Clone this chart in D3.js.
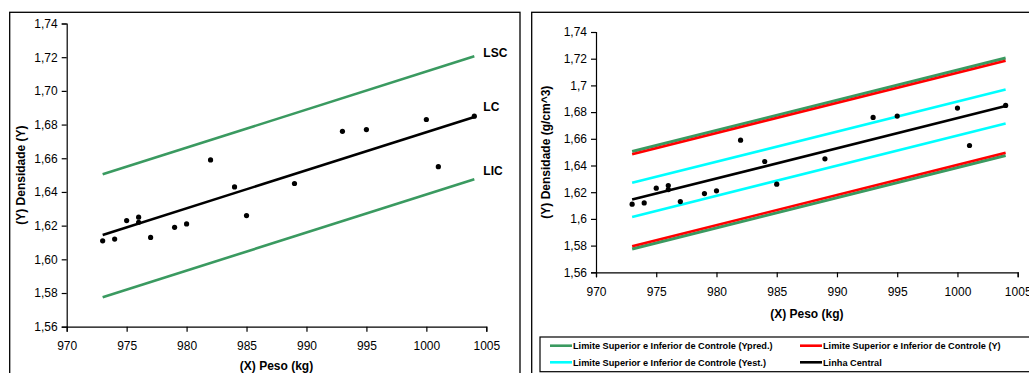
<!DOCTYPE html>
<html>
<head>
<meta charset="utf-8">
<script src="https://cdn.jsdelivr.net/npm/d3@7"></script>
<style>
  body { margin: 0; background: #fff; }
  svg text { font-family: "Liberation Sans", Arial, sans-serif; fill: #000; }
  .tick-label { font-size: 12px; }
  .axis-title { font-size: 12px; font-weight: bold; }
  .legend-label { font-size: 9.2px; font-weight: bold; }
</style>
</head>
<body>
<div id="chart"></div>
<script>
// observations
const pesoX = [973, 974, 975, 976, 976, 977, 979, 980, 982, 984, 985, 989, 993, 995, 1000, 1001, 1004];
const densY = [1.611, 1.612, 1.623, 1.625, 1.622, 1.613, 1.619, 1.621, 1.659, 1.643, 1.626, 1.645, 1.676, 1.677, 1.683, 1.655, 1.685];

// control lines, value at x = 973 and x = 1004
const lineX = [973, 1004];
const central = [1.6145, 1.6845];
const upperPred = [1.6505, 1.7205];
const lowerPred = [1.5775, 1.6475];
const upperY = [1.6485, 1.7185];
const lowerY = [1.5795, 1.6495];
const upperEst = [1.6270, 1.6970];
const lowerEst = [1.6015, 1.6715];

const xTicks = [970, 975, 980, 985, 990, 995, 1000, 1005];
const yTicks = [1.56, 1.58, 1.60, 1.62, 1.64, 1.66, 1.68, 1.70, 1.72, 1.74];
const leftLabels = ["LSC", "LC", "LIC"];
const legendLabels = [
  "Limite Superior e Inferior de Controle (Ypred.)",
  "Limite Superior e Inferior de Controle (Y)",
  "Limite Superior e Inferior de Controle (Yest.)",
  "Linha Central"
];

const GREEN = "#3a9a60", RED = "#ff0000", CYAN = "#00ffff", BLACK = "#000";

const svg = d3.select("#chart").append("svg")
  .attr("width", 1029).attr("height", 373);

const pts = pesoX.map((x, i) => ({ x, y: densY[i] }));

function panel(opts) {
  const x = d3.scaleLinear().domain([970, 1005]).range(opts.xr);
  const y = d3.scaleLinear().domain([1.56, 1.74]).range(opts.yr);
  const g = svg.append("g");

  g.append("rect")
    .attr("x", opts.box[0]).attr("y", opts.box[1])
    .attr("width", opts.box[2]).attr("height", opts.box[3])
    .attr("fill", "none").attr("stroke", "#000").attr("stroke-width", 1.3);

  const xAxis = g.append("g").attr("transform", `translate(0,${opts.yr[0]})`)
    .call(d3.axisBottom(x).tickValues(xTicks).tickSize(5).tickPadding(10).tickFormat(d3.format("d")));
  const yAxis = g.append("g").attr("transform", `translate(${opts.xr[0]},0)`)
    .call(d3.axisLeft(y).tickValues(yTicks).tickSize(5).tickPadding(4)
      .tickFormat(v => opts.yfmt(v).replace(".", ",")));
  [xAxis, yAxis].forEach(a => {
    a.select(".domain").attr("stroke", "#000").attr("stroke-width", 1.2);
    a.selectAll(".tick line").attr("stroke", "#000").attr("stroke-width", 1.2);
    a.selectAll(".tick text").attr("class", "tick-label").attr("font-size", null).attr("font-family", null);
  });

  g.append("text").attr("class", "axis-title")
    .attr("x", (opts.xr[0] + opts.xr[1]) / 2).attr("y", opts.xTitleY)
    .attr("text-anchor", "middle").text("(X) Peso (kg)");
  g.append("text").attr("class", "axis-title")
    .attr("transform", `translate(${opts.yTitleX},${(opts.yr[0] + opts.yr[1]) / 2}) rotate(-90)`)
    .attr("text-anchor", "middle").text(opts.yTitle);

  const line = d3.line().x(d => x(d[0])).y(d => y(d[1]));
  opts.lines.forEach(l => {
    g.append("path")
      .attr("d", line(lineX.map((v, i) => [v, l.vals[i]])))
      .attr("fill", "none").attr("stroke", l.color).attr("stroke-width", l.w || 2.6);
  });

  g.selectAll("circle.pt").data(pts).join("circle").attr("class", "pt")
    .attr("cx", d => x(d.x)).attr("cy", d => y(d.y))
    .attr("r", 2.6).attr("fill", "#000");

  return { x, y, g };
}

// left panel
const left = panel({
  xr: [66.7, 486.3], yr: [326.7, 23.5], box: [9.7, 12.3, 510.3, 380],
  yfmt: d3.format(".2f"), yTitle: "(Y) Densidade (Y)", yTitleX: 25, xTitleY: 370,
  lines: [
    { vals: upperPred, color: GREEN },
    { vals: lowerPred, color: GREEN },
    { vals: central, color: BLACK }
  ]
});
const labelVals = [upperPred[1], central[1], lowerPred[1]];
const labelDy = [1, -6, -4];
left.g.selectAll("text.lim").data(leftLabels).join("text").attr("class", "axis-title lim")
  .attr("x", left.x(1004) + 9)
  .attr("y", (d, i) => left.y(labelVals[i]) + labelDy[i])
  .text(d => d);

// right panel
const right = panel({
  xr: [596, 1017.7], yr: [272.3, 32], box: [531.7, 12.3, 520, 380],
  yfmt: d3.format(".2~f"), yTitle: "(Y) Densidade (g/cm^3)", yTitleX: 550, xTitleY: 318,
  lines: [
    { vals: upperPred, color: GREEN, w: 3 },
    { vals: lowerPred, color: GREEN, w: 3 },
    { vals: upperY, color: RED, w: 2.6 },
    { vals: lowerY, color: RED, w: 2.6 },
    { vals: upperEst, color: CYAN, w: 2.6 },
    { vals: lowerEst, color: CYAN, w: 2.6 },
    { vals: central, color: BLACK, w: 2.6 }
  ]
});

// legend
const legColors = [GREEN, RED, CYAN, BLACK];
const lg = svg.append("g");
lg.append("rect").attr("x", 540).attr("y", 337).attr("width", 520).attr("height", 34.7)
  .attr("fill", "#fff").attr("stroke", "#000").attr("stroke-width", 1.2);
legendLabels.forEach((t, i) => {
  const cx = i % 2 === 0 ? 550 : 800;
  const cy = i < 2 ? 345.7 : 362.3;
  lg.append("line").attr("x1", cx).attr("x2", cx + 22).attr("y1", cy).attr("y2", cy)
    .attr("stroke", legColors[i]).attr("stroke-width", 2.6);
  lg.append("text").attr("class", "legend-label")
    .attr("x", cx + 23).attr("y", cy + 3.2).text(t);
});
</script>
</body>
</html>
